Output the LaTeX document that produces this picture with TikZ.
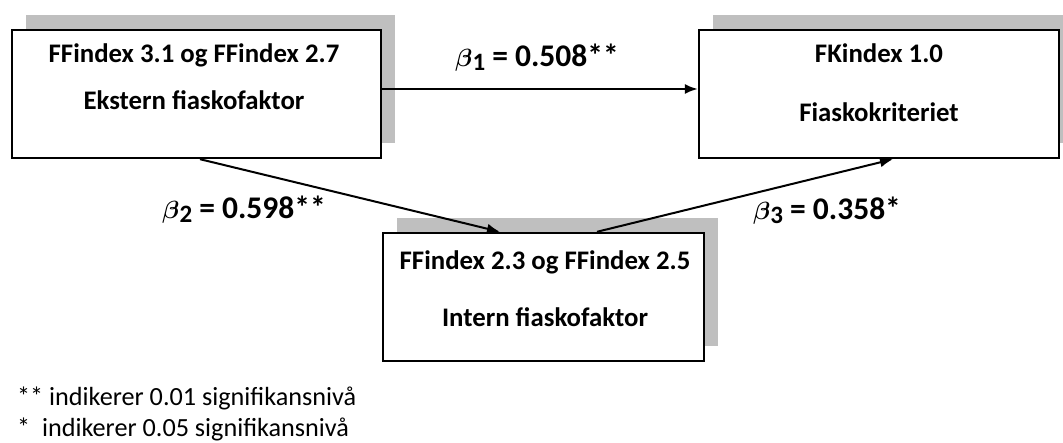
\documentclass[tikz,border=0pt]{standalone}
\usepackage{fontspec}
\setmainfont{Carlito}
\usepackage{amsmath}
\usetikzlibrary{arrows.meta,shadows}
\definecolor{shadowgray}{gray}{0.75}
\newcommand{\betasub}[1]{{\fontsize{34}{34}\selectfont$\boldsymbol{\beta}$}\raisebox{-4pt}{\fontsize{25}{25}\selectfont #1}}
\tikzset{
  box/.style={draw=black, line width=2.4pt, fill=white, inner sep=0pt,
    minimum width=#1, minimum height=128pt,
    drop shadow={shadow xshift=14pt, shadow yshift=15pt, fill=shadowgray, opacity=1}},
  boxtext/.style={anchor=base, inner sep=0pt, font=\fontsize{26.8}{30}\selectfont\bfseries},
  coef/.style={anchor=base, inner sep=0pt, font=\fontsize{31.5}{34}\selectfont\bfseries},
  note/.style={anchor=base west, inner sep=0pt, font=\fontsize{26.2}{29}\selectfont},
  path arrow/.style={draw=black, line width=2pt, -{Latex[length=13pt,width=10pt]}}
}
\begin{document}
\begin{tikzpicture}[x=1pt,y=-1pt]
  \useasboundingbox (0,0) rectangle (1063,443);

  % the three variable boxes
  \node[box=369pt] (ext) at (196.5,94) {};
  \node[box=360pt] (crit) at (879,94) {};
  \node[box=321pt] (int) at (543.5,297) {};

  % box labels
  \node[boxtext] (ext1) at (194,63) {FFindex 3.1 og FFindex 2.7};
  \node[boxtext] (ext2) at (194,110) {Ekstern fiaskofaktor};
  \node[boxtext] (crit1) at (879,63) {FKindex 1.0};
  \node[boxtext] (crit2) at (879,122) {Fiaskokriteriet};
  \node[boxtext] (int1) at (545,270) {FFindex 2.3 og FFindex 2.5};
  \node[boxtext] (int2) at (545,327) {Intern fiaskofaktor};

  % paths between the factors
  \draw[path arrow] ([yshift=5pt]ext.east) -- ([yshift=5pt]crit.west);
  \draw[path arrow] ([xshift=3.5pt]ext.south) -- ([xshift=-43.5pt]int.north);
  \draw[path arrow] ([xshift=53.5pt]int.north) -- ([xshift=14pt]crit.south);

  % path coefficients
  \node[coef] (b1) at (537,67) {\betasub{1} = 0.508**};
  \node[coef] (b2) at (244,219) {\betasub{2} = 0.598**};
  \node[coef] (b3) at (827,220) {\betasub{3} = 0.358*};

  % significance notes
  \node[note] (n1) at (17,406) {** indikerer 0.01 signifikansnivå};
  \node[note] (n2) at (17,436) {*\ \ indikerer 0.05 signifikansnivå};
\end{tikzpicture}
\end{document}
